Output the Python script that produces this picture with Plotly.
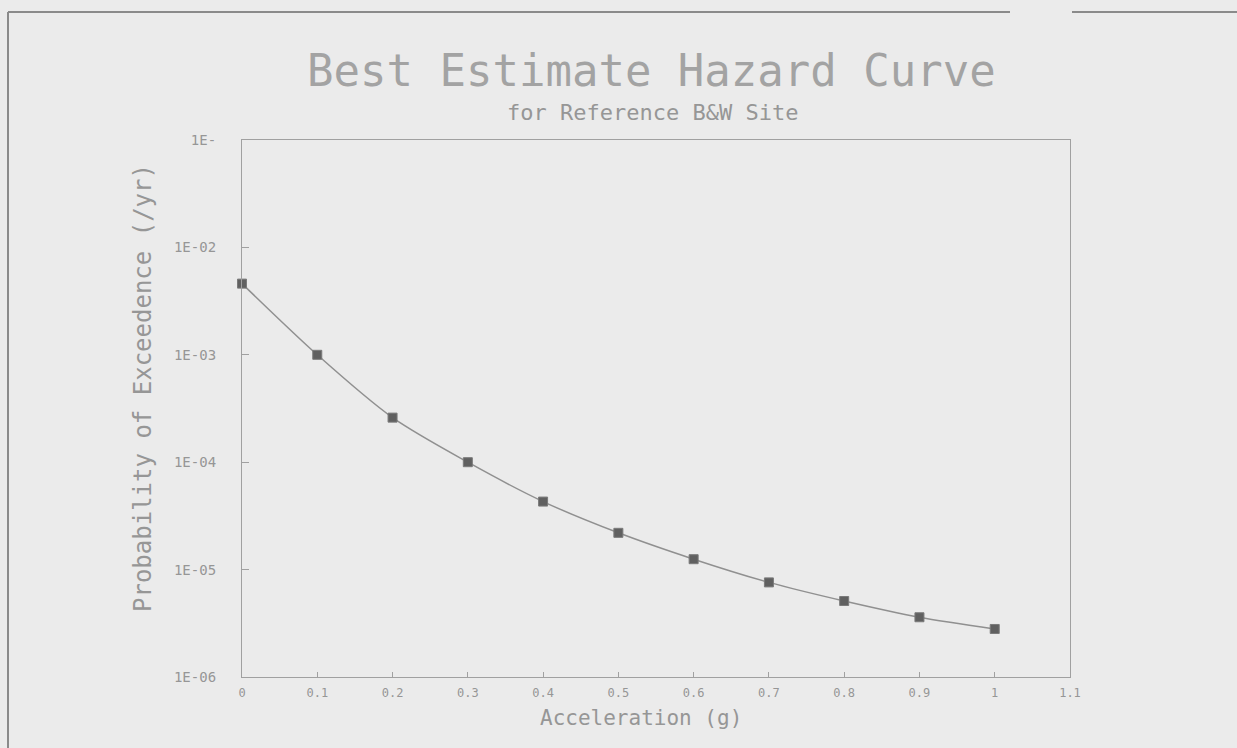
import plotly.graph_objects as go

accel = [0.0, 0.1, 0.2, 0.3, 0.4, 0.5, 0.6, 0.7, 0.8, 0.9, 1.0]
prob = [4.6e-3, 1.0e-3, 2.6e-4, 1.0e-4, 4.3e-5, 2.2e-5, 1.25e-5, 7.6e-6, 5.1e-6, 3.6e-6, 2.8e-6]

x_ticks = [0, 0.1, 0.2, 0.3, 0.4, 0.5, 0.6, 0.7, 0.8, 0.9, 1.0, 1.1]
x_tick_text = ["0", "0.1", "0.2", "0.3", "0.4", "0.5", "0.6", "0.7", "0.8", "0.9", "1", "1.1"]
y_ticks = [1e-6, 1e-5, 1e-4, 1e-3, 1e-2, 1e-1]
y_tick_text = ["1E-06", "1E-05", "1E-04", "1E-03", "1E-02", "1E-"]

title = "Best Estimate Hazard Curve"
subtitle = "for Reference B&W Site"
x_title = "Acceleration (g)"
y_title = "Probability of Exceedence (/yr)"

W, H = 1237, 748
L, R, T, B = 242, 1070, 140, 677
PW, PH = R - L, B - T

def px(xp):
    return (xp - L) / PW

def py(yp):
    return (B - yp) / PH

BG = "#ebebeb"
TXT = "#969696"
AX = "#a0a0a0"
MONO = "DejaVu Sans Mono"

fig = go.Figure()
fig.add_trace(go.Scatter(
    x=accel, y=prob, mode="lines+markers", cliponaxis=False,
    line=dict(color="#909090", width=1.5, shape="spline", smoothing=0.8),
    marker=dict(symbol="square", size=9, color="#606060",
                line=dict(color="#7a7a7a", width=1)),
    showlegend=False,
))

def ann(text, x, y, size, angle=0, color=TXT):
    return dict(text=text, x=px(x), y=py(y), xref="paper", yref="paper",
                xanchor="center", yanchor="middle", showarrow=False,
                textangle=angle, font=dict(family=MONO, size=size, color=color))

fig.update_layout(
    width=W, height=H,
    margin=dict(l=L, r=W - R, t=T, b=H - B),
    paper_bgcolor=BG, plot_bgcolor=BG,
    font=dict(family=MONO, color=TXT),
    xaxis=dict(
        range=[0, 1.1], tickvals=x_ticks, ticktext=x_tick_text,
        showgrid=False, zeroline=False, showline=True, mirror=True,
        linecolor=AX, linewidth=1.2, ticks="inside", ticklen=5, tickcolor=AX,
        tickfont=dict(family=MONO, size=12, color=TXT),
        ticklabelstandoff=4,
    ),
    yaxis=dict(
        type="log", range=[-6, -1], tickvals=y_ticks, ticktext=y_tick_text,
        showgrid=False, zeroline=False, showline=True, mirror=True,
        linecolor=AX, linewidth=1.2, ticks="inside", ticklen=7, tickcolor=AX,
        tickfont=dict(family=MONO, size=14, color=TXT),
        ticklabelstandoff=22,
    ),
    annotations=[
        ann(title, 651, 70, 44, color="#a3a3a3"),
        ann(subtitle, 652, 112, 22),
        ann(x_title, 641, 718, 21),
        ann(y_title, 143, 388, 24, angle=-90),
    ],
    shapes=[
        dict(type="line", xref="paper", yref="paper",
             x0=px(8), x1=px(1010), y0=py(12), y1=py(12),
             line=dict(color="#8a8a8a", width=2)),
        dict(type="line", xref="paper", yref="paper",
             x0=px(1072), x1=px(1237), y0=py(12), y1=py(12),
             line=dict(color="#8a8a8a", width=2)),
        dict(type="line", xref="paper", yref="paper",
             x0=px(8), x1=px(8), y0=py(12), y1=py(748),
             line=dict(color="#8a8a8a", width=2)),
    ],
)

fig.write_html(
    "out.html",
    config={"displayModeBar": False},
    post_script="document.body.style.margin='0';document.body.style.background='#ebebeb';",
)
